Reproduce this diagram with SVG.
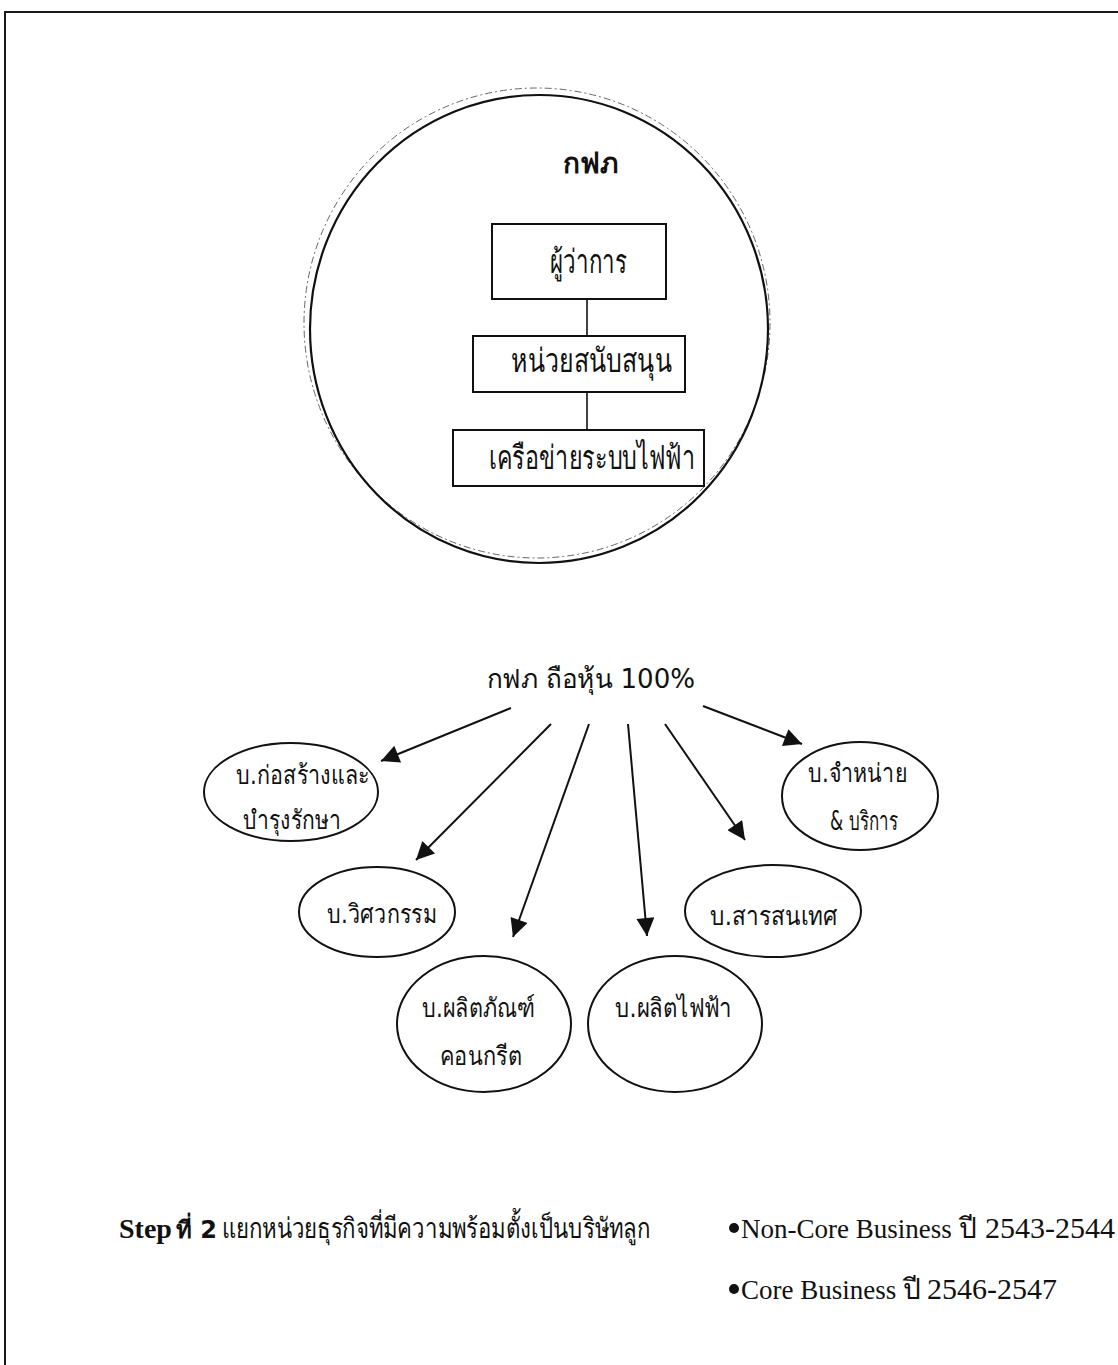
<svg xmlns="http://www.w3.org/2000/svg" width="1118" height="1365" viewBox="0 0 1118 1365">
<style>
.frame{stroke:#1a1a1a;stroke-width:2;fill:none}
.big{fill:none;stroke:#111;stroke-width:2.2}
.ghost{fill:none;stroke:#666;stroke-width:1;stroke-dasharray:7 3 2 3}
.box{fill:#fff;stroke:#111;stroke-width:2}
.ell{fill:#fff;stroke:#111;stroke-width:2}
.link{stroke:#111;stroke-width:1.6;fill:none}
.arr{stroke:#111;stroke-width:2;fill:none;marker-end:url(#ah)}
.th{font-family:"DejaVu Sans","Noto Sans",sans-serif;fill:#111}
.en{font-family:"Liberation Serif",serif;fill:#111}
</style>
<defs>
<marker id="ah" viewBox="0 0 10 10" refX="10" refY="5" markerWidth="24" markerHeight="18" markerUnits="userSpaceOnUse" orient="auto">
<path d="M0,0 L10,5 L0,10 z" fill="#111"/>
</marker>
</defs>
<rect width="1118" height="1365" fill="#fff"/>
<g id="frame">
<line class="frame" x1="4" y1="12" x2="1118" y2="12"/>
<line class="frame" x1="5" y1="12" x2="5" y2="1365"/>
</g>
<g id="egat-circle">
<ellipse class="ghost" cx="537" cy="323" rx="233" ry="235"/>
<ellipse class="big" cx="539" cy="329" rx="229" ry="234"/>
<text class="th" x="590" y="173" font-size="28" font-weight="bold" text-anchor="middle">กฟภ</text>
</g>
<g id="connectors">
<line class="link" x1="587" y1="299" x2="587" y2="336"/>
<line class="link" x1="587" y1="392" x2="587" y2="430"/>
<line class="arr" x1="511" y1="708" x2="381" y2="761"/>
<line class="arr" x1="551" y1="724" x2="416" y2="860"/>
<line class="arr" x1="589" y1="724" x2="513" y2="937"/>
<line class="arr" x1="628" y1="724" x2="647" y2="936"/>
<line class="arr" x1="665" y1="724" x2="745" y2="840"/>
<line class="arr" x1="703" y1="706" x2="802" y2="744"/>
</g>
<g id="n-governor">
<rect class="box" x="492" y="224" width="174" height="75"/>
<text class="th" x="550" y="273" font-size="33" textLength="77" lengthAdjust="spacingAndGlyphs">ผู้ว่าการ</text>
</g>
<g id="n-support">
<rect class="box" x="473" y="336" width="212" height="56"/>
<text class="th" x="511" y="372" font-size="33" textLength="161" lengthAdjust="spacingAndGlyphs">หน่วยสนับสนุน</text>
</g>
<g id="n-grid">
<rect class="box" x="453" y="430" width="251" height="56"/>
<text class="th" x="489" y="469" font-size="33" textLength="206" lengthAdjust="spacingAndGlyphs">เครือข่ายระบบไฟฟ้า</text>
</g>
<g id="n-share">
<text class="th" x="487" y="688" font-size="27" textLength="208" lengthAdjust="spacingAndGlyphs">กฟภ  ถือหุ้น  100%</text>
</g>
<g id="n-construct">
<ellipse class="ell" cx="291" cy="792" rx="87" ry="49"/>
<text class="th" x="236" y="784" font-size="26" textLength="134" lengthAdjust="spacingAndGlyphs">บ.ก่อสร้างและ</text>
<text class="th" x="243" y="829" font-size="26" textLength="98" lengthAdjust="spacingAndGlyphs">บำรุงรักษา</text>
</g>
<g id="n-engineering">
<ellipse class="ell" cx="377" cy="912" rx="78" ry="45"/>
<text class="th" x="327" y="923" font-size="26" textLength="110" lengthAdjust="spacingAndGlyphs">บ.วิศวกรรม</text>
</g>
<g id="n-concrete">
<ellipse class="ell" cx="484" cy="1024" rx="87" ry="68"/>
<text class="th" x="422" y="1017" font-size="26" textLength="113" lengthAdjust="spacingAndGlyphs">บ.ผลิตภัณฑ์</text>
<text class="th" x="440" y="1065" font-size="26" textLength="82" lengthAdjust="spacingAndGlyphs">คอนกรีต</text>
</g>
<g id="n-power">
<ellipse class="ell" cx="675" cy="1024" rx="87" ry="68"/>
<text class="th" x="615" y="1017" font-size="26" textLength="117" lengthAdjust="spacingAndGlyphs">บ.ผลิตไฟฟ้า</text>
</g>
<g id="n-it">
<ellipse class="ell" cx="773" cy="911" rx="88" ry="46"/>
<text class="th" x="710" y="925" font-size="26" textLength="128" lengthAdjust="spacingAndGlyphs">บ.สารสนเทศ</text>
</g>
<g id="n-distribution">
<ellipse class="ell" cx="860" cy="796" rx="78" ry="54"/>
<text class="th" x="808" y="782" font-size="26" textLength="99" lengthAdjust="spacingAndGlyphs">บ.จำหน่าย</text>
<text class="th" x="830" y="830" font-size="26" textLength="68" lengthAdjust="spacingAndGlyphs">&amp; บริการ</text>
</g>
<g id="caption">
<text class="en" x="119" y="1238" font-size="28" font-weight="bold">Step</text>
<text class="th" x="176" y="1238" font-size="24" font-weight="bold">ที่ 2</text>
<text class="th" x="222" y="1238" font-size="28" textLength="428" lengthAdjust="spacingAndGlyphs">แยกหน่วยธุรกิจที่มีความพร้อมตั้งเป็นบริษัทลูก</text>
<circle cx="734" cy="1228" r="5" fill="#111"/>
<text class="en" x="741" y="1238" font-size="27">Non-Core Business</text>
<text class="th" x="959" y="1238" font-size="28">ปี</text>
<text class="en" x="985" y="1238" font-size="29" textLength="130" lengthAdjust="spacingAndGlyphs">2543-2544</text>
<circle cx="734" cy="1289" r="5" fill="#111"/>
<text class="en" x="741" y="1299" font-size="27">Core Business</text>
<text class="th" x="903" y="1299" font-size="28">ปี</text>
<text class="en" x="927" y="1299" font-size="29" textLength="130" lengthAdjust="spacingAndGlyphs">2546-2547</text>
</g>
</svg>
